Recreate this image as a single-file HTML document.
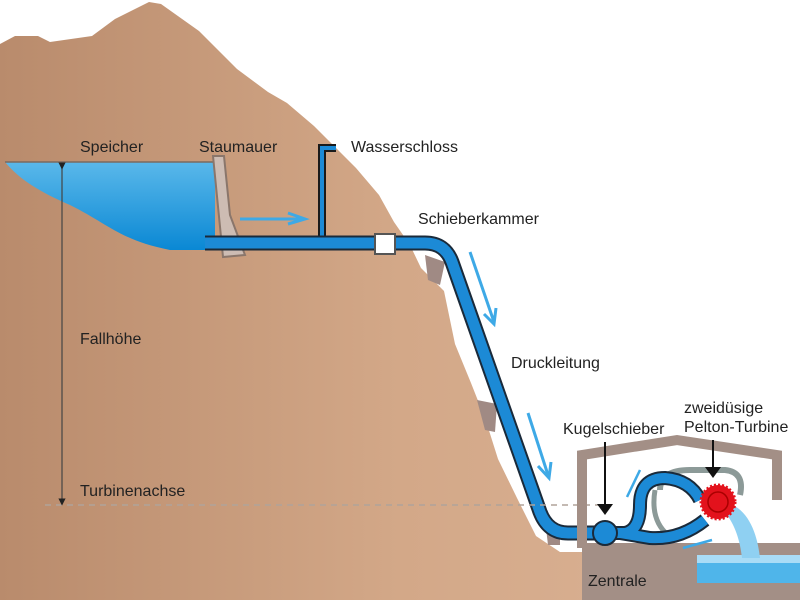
<!DOCTYPE html>
<html><head><meta charset="utf-8"><style>
html,body{margin:0;padding:0;background:#fff;}
svg{display:block;}
text{font-family:"Liberation Sans",sans-serif;font-size:16px;fill:#222;}
</style></head><body>
<svg width="800" height="600" viewBox="0 0 800 600" xmlns="http://www.w3.org/2000/svg">
<defs>
<linearGradient id="rock" x1="0" y1="0" x2="1" y2="0">
<stop offset="0" stop-color="#b98b6c"/><stop offset="0.5" stop-color="#d3a888"/><stop offset="1" stop-color="#dcb497"/>
</linearGradient>
<linearGradient id="water" x1="0" y1="0" x2="0" y2="1">
<stop offset="0" stop-color="#5ab8ea"/><stop offset="1" stop-color="#0a88d4"/>
</linearGradient>
<marker id="ah" markerWidth="6" markerHeight="6" refX="3" refY="3" orient="auto"><path d="M0,0 L6,3 L0,6 z" fill="#222"/></marker>
</defs>
<path d="M0,44 L15,36 L38,36 L50,42 L92,36 L115,19 L149,2 L161,4 L199,31 L237,69 L268,92 L287,103 L314,126 L337,149 L356,168 L379,195 L394,222 L410,245 L421,268 L444,291 L455,344 L471,383 L486,421 L498,459 L517,498 L536,536 L560,552 L800,552 L800,600 L0,600 Z" fill="url(#rock)"/>
<path d="M425,255 L445,262 L440,285 L428,280 Z" fill="#a08a84"/>
<path d="M477,400 L497,404 L495,432 L485,430 Z" fill="#a08a84"/>
<path d="M545,520 L560,528 L560,545 L548,545 Z" fill="#a08a84"/>
<path d="M5,162 L215,162 L215,250 L170,250 C120,240 110,225 70,205 C40,192 20,180 5,162 Z" fill="url(#water)"/>
<line x1="5" y1="162" x2="215" y2="162" stroke="#7a6a60" stroke-width="1.5"/>
<path d="M213,156 L224,156 L230,215 L245,255 L223,257 Z" fill="#cdbcb3" stroke="#8a766b" stroke-width="2"/>
<path d="M240,219 L300,219" stroke="#3ea9e6" stroke-width="3"/>
<path d="M288,213 L305,219 L288,224" fill="none" stroke="#3ea9e6" stroke-width="3"/>
<path d="M322,243 L322,148 L336,148" fill="none" stroke="#1a1a1a" stroke-width="8"/>
<path d="M322,243 L322,148 L336,148" fill="none" stroke="#1c8ad6" stroke-width="4"/>
<path d="M205,243 L425,243 Q445,243 452,262 L540,512 Q548,533 568,533 L600,533" fill="none" stroke="#1a2a3a" stroke-width="15"/>
<path d="M205,243 L425,243 Q445,243 452,262 L540,512 Q548,533 568,533 L600,533" fill="none" stroke="#1c8ad6" stroke-width="11"/>
<rect x="375" y="234" width="20" height="20" fill="#fff" stroke="#555" stroke-width="2"/>
<g stroke="#3ea9e6" stroke-width="3" fill="none">
<path d="M470,252 L494,322"/><path d="M484,314 L494,324 L496,308"/>
<path d="M528,413 L548,475"/><path d="M538,466 L549,478 L551,462"/>
</g>
<line x1="45" y1="505" x2="600" y2="505" stroke="#b0a39a" stroke-width="1.5" stroke-dasharray="6,5"/>
<line x1="62" y1="166" x2="62" y2="502" stroke="#444" stroke-width="1.2" marker-start="url(#ah)" marker-end="url(#ah)"/>
<path d="M582,548 L582,455 L677,440 L777,455 L777,500" fill="none" stroke="#a38f86" stroke-width="10"/>
<rect x="582" y="543" width="218" height="57" fill="#a38f86"/>
<rect x="697" y="555" width="103" height="28" fill="#4fb5ea"/>
<rect x="697" y="555" width="103" height="8" fill="#a9dcf6"/>
<path d="M733,505 C752,515 758,540 760,558 L742,558 C740,540 735,525 725,512 Z" fill="#8fd0f2"/>
<path d="M660,490 Q660,470 690,470 L725,470 Q745,472 740,495" fill="none" stroke="#8c9a98" stroke-width="6"/>
<path d="M655,490 Q650,520 668,535" fill="none" stroke="#8c9a98" stroke-width="5"/>
<g fill="none" stroke="#1a2a3a" stroke-width="14">
<path d="M600,533 L625,533 Q640,530 640,505 Q640,478 665,478 Q690,480 700,500"/>
<path d="M620,533 L650,538 Q680,540 705,520"/>
</g>
<g fill="none" stroke="#1c8ad6" stroke-width="10">
<path d="M600,533 L625,533 Q640,530 640,505 Q640,478 665,478 Q690,480 700,500"/>
<path d="M620,533 L650,538 Q680,540 705,520"/>
</g>
<circle cx="605" cy="533" r="12" fill="#1c8ad6" stroke="#1a2a3a" stroke-width="2"/>
<circle cx="718" cy="502" r="17" fill="#e3121c" stroke="#e3121c" stroke-width="3" stroke-dasharray="2,2"/>
<circle cx="718" cy="502" r="10" fill="none" stroke="#a00" stroke-width="1.5"/>
<g stroke="#3ea9e6" stroke-width="2.5" fill="none">
<path d="M627,497 L640,470"/><path d="M683,548 L712,540"/>
</g>
<text x="80" y="152">Speicher</text>
<text x="199" y="152">Staumauer</text>
<text x="351" y="152">Wasserschloss</text>
<text x="418" y="224">Schieberkammer</text>
<text x="80" y="344">Fallhöhe</text>
<text x="511" y="368">Druckleitung</text>
<text x="80" y="496">Turbinenachse</text>
<text x="563" y="434">Kugelschieber</text>
<text x="684" y="413">zweidüsige</text>
<text x="684" y="432">Pelton-Turbine</text>
<text x="588" y="586">Zentrale</text>
<line x1="605" y1="442" x2="605" y2="506" stroke="#111" stroke-width="2"/>
<path d="M597,504 L613,504 L605,515 Z" fill="#111"/>
<line x1="713" y1="440" x2="713" y2="468" stroke="#111" stroke-width="2"/>
<path d="M705,467 L721,467 L713,478 Z" fill="#111"/>
</svg>
</body></html>
